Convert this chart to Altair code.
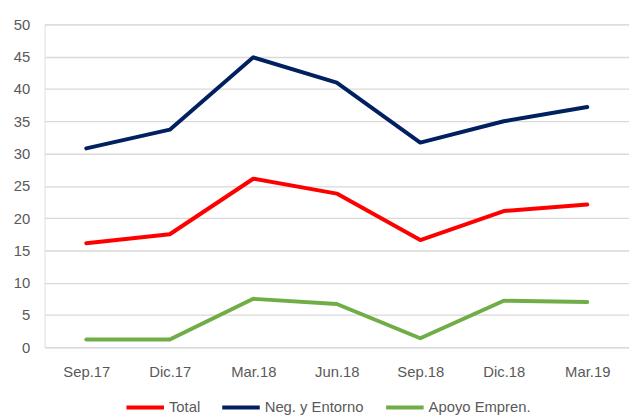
import altair as alt
import pandas as pd

periods = ["Sep.17", "Dic.17", "Mar.18", "Jun.18", "Sep.18", "Dic.18", "Mar.19"]
total = [16.1, 17.5, 26.1, 23.8, 16.6, 21.1, 22.1]
negocio = [30.8, 33.7, 44.9, 41.0, 31.7, 35.0, 37.2]
apoyo = [1.2, 1.2, 7.5, 6.7, 1.4, 7.2, 7.0]
series = ["Total", "Neg. y Entorno", "Apoyo Empren."]
colors = ["#FF0000", "#002060", "#70AD47"]

rows = []
for name, vals in zip(series, [total, negocio, apoyo]):
    for p, v in zip(periods, vals):
        rows.append({"periodo": p, "valor": v, "serie": name})
df = pd.DataFrame(rows)

FONT = "Liberation Sans"
GREY = "#595959"

chart = (
    alt.Chart(df)
    .mark_line(strokeWidth=4, strokeCap="round", strokeJoin="round")
    .encode(
        x=alt.X(
            "periodo:N",
            sort=periods,
            title=None,
            scale=alt.Scale(type="point", padding=0.5),
            axis=alt.Axis(
                labelAngle=0,
                domain=False,
                ticks=False,
                grid=False,
                labelPadding=18,
                labelFont=FONT,
                labelFontSize=15,
                labelColor=GREY,
            ),
        ),
        y=alt.Y(
            "valor:Q",
            title=None,
            scale=alt.Scale(domain=[0, 50], nice=False),
            axis=alt.Axis(
                values=[0, 5, 10, 15, 20, 25, 30, 35, 40, 45, 50],
                domain=False,
                ticks=False,
                gridColor="#D9D9D9",
                gridWidth=1.3,
                labelPadding=15,
                labelFont=FONT,
                labelFontSize=15,
                labelColor=GREY,
            ),
        ),
        color=alt.Color(
            "serie:N",
            sort=series,
            scale=alt.Scale(domain=series, range=colors),
            legend=alt.Legend(
                title=None,
                orient="none",
                direction="horizontal",
                legendX=81,
                legendY=367,
                symbolType="stroke",
                symbolSize=1444,
                symbolStrokeWidth=4,
                labelOffset=3,
                columnPadding=14,
                labelFont=FONT,
                labelFontSize=15,
                labelColor=GREY,
            ),
        ),
        order=alt.Order("serie:N"),
    )
    .properties(
        width=592,
        height=327,
        autosize=alt.AutoSizeParams(type="none"),
        padding={"left": 37, "top": 14, "right": 0, "bottom": 67},
    )
    .configure_view(stroke=None)
    .configure(background="white")
)

chart.save("out.html", embed_options={"renderer": "svg", "actions": False})
